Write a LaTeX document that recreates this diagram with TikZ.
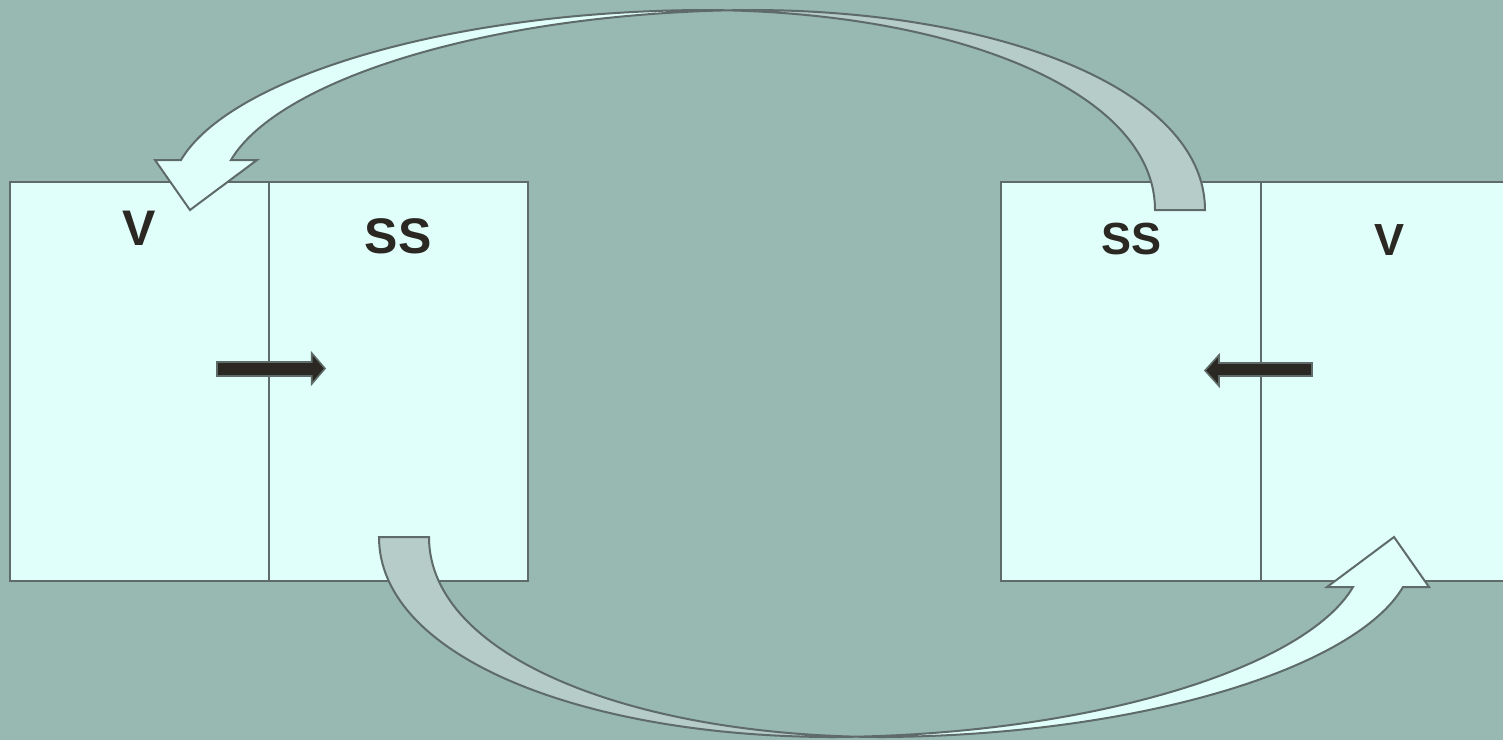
\documentclass[tikz,border=0pt]{standalone}
\usepackage{fontspec}
\setmainfont{Liberation Sans}
\definecolor{bgcol}{HTML}{98B8B2}
\definecolor{panelfill}{HTML}{E0FFFA}
\definecolor{edgecol}{HTML}{5E6B68}
\definecolor{backface}{HTML}{B5CCC9}
\definecolor{pushfill}{HTML}{2B2722}
% outline of a curved ribbon arrow: two copies of one arch, 50pt apart,
% crossing near the top; tail at the right, head pointing down at the left
\newcommand\ribbonoutline{(181,160) .. controls (228,80) and (440,12) .. (700,10)
  .. controls (950,10) and (1155,90) .. (1155,210) -- (1205,210)
  .. controls (1205,90) and (1000,10) .. (750,10)
  .. controls (490,12) and (278,80) .. (231,160)
  -- (257,160) -- (190,210) -- (155,160) -- cycle}
\tikzset{
  panel/.style={draw=edgecol, line width=2pt, fill=panelfill},
  ribbonedge/.style={draw=edgecol, line width=2pt, line join=miter},
  pusharrow/.style={draw=edgecol, line width=1.6pt, fill=pushfill, line join=miter},
  biglabel/.style={font=\fontsize{50}{60}\selectfont\bfseries, text=pushfill, inner sep=0pt, anchor=base},
  smalllabel/.style={font=\fontsize{45}{54}\selectfont\bfseries, text=pushfill, inner sep=0pt, anchor=base},
  swoop/.pic={
    % front side of the ribbon (head end)
    \begin{scope}
      \clip (100,-40) rectangle (725,260);
      \fill[panelfill] \ribbonoutline;
    \end{scope}
    % rear side of the ribbon (tail end)
    \begin{scope}
      \clip (725,-40) rectangle (1260,260);
      \fill[backface] \ribbonoutline;
    \end{scope}
    \draw[ribbonedge] \ribbonoutline;
  }
}
\begin{document}
\begin{tikzpicture}[x=1pt,y=-1pt]

% canvas
\useasboundingbox (0,0) rectangle (1503,740);
\clip (0,0) rectangle (1503,740);
\fill[bgcol] (0,0) rectangle (1503,740);

% left cell pair
\draw[panel] (10,182) rectangle (528,581);
\draw[edgecol, line width=2pt] (269,182) -- (269,581);

% right cell pair (runs past the right edge)
\draw[panel] (1001,182) rectangle (1530,581);
\draw[edgecol, line width=2pt] (1261,182) -- (1261,581);

% labels
\node[biglabel] (lv) at (139.5,245) {V};
\node[biglabel] (lss) at (398,253) {SS};
\node[smalllabel] (rss) at (1131,254) {SS};
\node[smalllabel] (rv) at (1389.5,255) {V};

% horizontal push arrows across the dividers
\draw[pusharrow] (217,362) -- (311.7,362) -- (311.7,353) -- (325,368.5)
  -- (311.7,384) -- (311.7,376) -- (217,376) -- cycle;
\draw[pusharrow] (1312,363) -- (1219,363) -- (1219,355) -- (1205,370.5)
  -- (1219,386) -- (1219,376) -- (1312,376) -- cycle;

% transfer arrows: over the top to the left, and the same turned round underneath
\pic (upper) at (0,0) {swoop};
\pic[rotate=180] (lower) at (1584,747) {swoop};
\end{tikzpicture}
\end{document}
